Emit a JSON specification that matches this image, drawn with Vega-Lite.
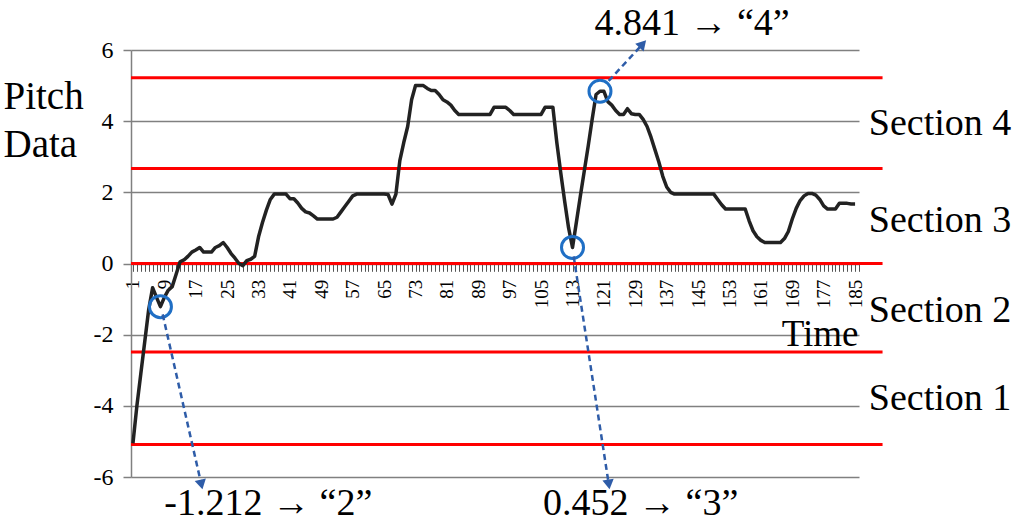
{
  "$schema": "https://vega.github.io/schema/vega-lite/v6.json",
  "width": 728,
  "height": 427,
  "autosize": {"type": "none"},
  "padding": {"left": 131, "top": 50, "right": 165, "bottom": 46},
  "background": "white",
  "config": {
    "view": {"stroke": null},
    "font": "Liberation Serif",
    "axis": {
      "labelFont": "Liberation Serif", "titleFont": "Liberation Serif",
      "labelColor": "#000000", "titleColor": "#000000", "titleFontWeight": "normal"
    },
    "axisX": {"labelFontSize": 19, "titleFontSize": 37},
    "axisY": {"labelFontSize": 24, "titleFontSize": 39}
  },
  "datasets": {
    "pitch": [
      {"t":1,"v":-5.05},{"t":2,"v":-4.0},{"t":3,"v":-3.1},{"t":4,"v":-2.2},{"t":5,"v":-1.3},{"t":6,"v":-0.68},{"t":7,"v":-0.95},{"t":8,"v":-1.212},{"t":9,"v":-0.95},{"t":10,"v":-0.75},
      {"t":11,"v":-0.65},{"t":12,"v":-0.3},{"t":13,"v":0.05},{"t":14,"v":0.1},{"t":15,"v":0.2},{"t":16,"v":0.32},{"t":17,"v":0.38},{"t":18,"v":0.45},{"t":19,"v":0.32},{"t":20,"v":0.32},
      {"t":21,"v":0.32},{"t":22,"v":0.45},{"t":23,"v":0.5},{"t":24,"v":0.59},{"t":25,"v":0.45},{"t":26,"v":0.28},{"t":27,"v":0.15},{"t":28,"v":0.0},{"t":29,"v":-0.06},{"t":30,"v":0.08},
      {"t":31,"v":0.12},{"t":32,"v":0.2},{"t":33,"v":0.75},{"t":34,"v":1.15},{"t":35,"v":1.5},{"t":36,"v":1.8},{"t":37,"v":1.95},{"t":38,"v":1.95},{"t":39,"v":1.95},{"t":40,"v":1.95},
      {"t":41,"v":1.82},{"t":42,"v":1.82},{"t":43,"v":1.7},{"t":44,"v":1.55},{"t":45,"v":1.45},{"t":46,"v":1.42},{"t":47,"v":1.34},{"t":48,"v":1.25},{"t":49,"v":1.25},{"t":50,"v":1.25},
      {"t":51,"v":1.25},{"t":52,"v":1.25},{"t":53,"v":1.3},{"t":54,"v":1.45},{"t":55,"v":1.6},{"t":56,"v":1.75},{"t":57,"v":1.9},{"t":58,"v":1.95},{"t":59,"v":1.95},{"t":60,"v":1.95},
      {"t":61,"v":1.95},{"t":62,"v":1.95},{"t":63,"v":1.95},{"t":64,"v":1.95},{"t":65,"v":1.95},{"t":66,"v":1.94},{"t":67,"v":1.67},{"t":68,"v":1.95},{"t":69,"v":2.89},{"t":70,"v":3.4},
      {"t":71,"v":3.85},{"t":72,"v":4.6},{"t":73,"v":5.0},{"t":74,"v":5.0},{"t":75,"v":5.0},{"t":76,"v":4.92},{"t":77,"v":4.86},{"t":78,"v":4.86},{"t":79,"v":4.75},{"t":80,"v":4.6},
      {"t":81,"v":4.54},{"t":82,"v":4.45},{"t":83,"v":4.3},{"t":84,"v":4.19},{"t":85,"v":4.19},{"t":86,"v":4.19},{"t":87,"v":4.19},{"t":88,"v":4.19},{"t":89,"v":4.19},{"t":90,"v":4.19},
      {"t":91,"v":4.19},{"t":92,"v":4.19},{"t":93,"v":4.39},{"t":94,"v":4.39},{"t":95,"v":4.39},{"t":96,"v":4.39},{"t":97,"v":4.3},{"t":98,"v":4.19},{"t":99,"v":4.19},{"t":100,"v":4.19},
      {"t":101,"v":4.19},{"t":102,"v":4.19},{"t":103,"v":4.19},{"t":104,"v":4.19},{"t":105,"v":4.19},{"t":106,"v":4.39},{"t":107,"v":4.39},{"t":108,"v":4.39},{"t":109,"v":3.4},{"t":110,"v":2.55},
      {"t":111,"v":1.75},{"t":112,"v":1.0},{"t":113,"v":0.452},{"t":114,"v":1.17},{"t":115,"v":1.9},{"t":116,"v":2.6},{"t":117,"v":3.3},{"t":118,"v":4.05},{"t":119,"v":4.75},{"t":120,"v":4.841},
      {"t":121,"v":4.84},{"t":122,"v":4.55},{"t":123,"v":4.45},{"t":124,"v":4.3},{"t":125,"v":4.19},{"t":126,"v":4.19},{"t":127,"v":4.35},{"t":128,"v":4.21},{"t":129,"v":4.19},{"t":130,"v":4.19},
      {"t":131,"v":4.05},{"t":132,"v":3.85},{"t":133,"v":3.55},{"t":134,"v":3.2},{"t":135,"v":2.85},{"t":136,"v":2.45},{"t":137,"v":2.15},{"t":138,"v":2.0},{"t":139,"v":1.95},{"t":140,"v":1.95},
      {"t":141,"v":1.95},{"t":142,"v":1.95},{"t":143,"v":1.95},{"t":144,"v":1.95},{"t":145,"v":1.95},{"t":146,"v":1.95},{"t":147,"v":1.95},{"t":148,"v":1.95},{"t":149,"v":1.95},{"t":150,"v":1.8},
      {"t":151,"v":1.65},{"t":152,"v":1.53},{"t":153,"v":1.53},{"t":154,"v":1.53},{"t":155,"v":1.53},{"t":156,"v":1.53},{"t":157,"v":1.53},{"t":158,"v":1.2},{"t":159,"v":0.92},{"t":160,"v":0.75},
      {"t":161,"v":0.65},{"t":162,"v":0.59},{"t":163,"v":0.59},{"t":164,"v":0.59},{"t":165,"v":0.59},{"t":166,"v":0.59},{"t":167,"v":0.7},{"t":168,"v":0.9},{"t":169,"v":1.25},{"t":170,"v":1.55},
      {"t":171,"v":1.77},{"t":172,"v":1.9},{"t":173,"v":1.97},{"t":174,"v":1.97},{"t":175,"v":1.92},{"t":176,"v":1.8},{"t":177,"v":1.62},{"t":178,"v":1.53},{"t":179,"v":1.53},{"t":180,"v":1.53},
      {"t":181,"v":1.69},{"t":182,"v":1.69},{"t":183,"v":1.69},{"t":184,"v":1.67},{"t":185,"v":1.67}
    ],
    "bounds": [{"v": 5.22}, {"v": 2.67}, {"v": 0}, {"v": -2.49}, {"v": -5.09}],
    "marks": [{"t": 8, "v": -1.212}, {"t": 113, "v": 0.452}, {"t": 120, "v": 4.841}],
    "arrows": [
      {"t": 8.57, "v": -1.43, "t2": 18.43, "v2": -6.21},
      {"t": 113.3, "v": 0.2, "t2": 122.25, "v2": -6.21},
      {"t": 122.2, "v": 5.13, "t2": 130.9, "v2": 6.17}
    ],
    "labels": [
      {"label": "Section 4", "t": 188.5, "v": 3.61},
      {"label": "Section 3", "t": 188.5, "v": 0.88},
      {"label": "Section 2", "t": 188.5, "v": -1.65},
      {"label": "Section 1", "t": 188.5, "v": -4.13},
      {"label": "-1.212 → “2”", "t": 9.0, "v": -7.08},
      {"label": "0.452 → “3”", "t": 105.5, "v": -7.08},
      {"label": "4.841 → “4”", "t": 118.6, "v": 6.43}
    ]
  },
  "layer": [
    {
      "data": {"name": "pitch"},
      "mark": {"type": "line", "color": "#222222", "strokeWidth": 3.5, "strokeJoin": "round", "opacity": 0},
      "encoding": {
        "x": {
          "field": "t", "type": "quantitative",
          "scale": {"domain": [0.5, 186], "nice": false, "zero": false},
          "axis": {
            "title": "Time", "orient": "bottom", "offset": -213.7, "tickCount": 185,
            "labelExpr": "(datum.value - 1) % 8 == 0 ? datum.label : ''",
            "labelAngle": -90, "labelFontSize": 19, "labelFont": "Liberation Serif", "labelColor": "#000000",
            "labelPadding": 8, "labelOverlap": false, "labelFlush": false, "labelBound": false,
            "tickSize": 8, "tickColor": "#555555", "tickWidth": 1,
            "domainColor": "#808080", "domainWidth": 1.5, "grid": false,
            "titleFont": "Liberation Serif", "titleFontSize": 37, "titleFontWeight": "normal", "titleColor": "#000000",
            "titleX": 727, "titleY": 82, "titleAlign": "right", "titleBaseline": "alphabetic", "titleAnchor": "end"
          }
        },
        "y": {
          "field": "v", "type": "quantitative",
          "scale": {"domain": [-6, 6], "nice": false, "zero": false},
          "axis": {
            "title": ["Pitch", "Data"], "values": [-6, -4, -2, 0, 2, 4, 6],
            "labelExpr": "replace(datum.label, '−', '-')",
            "grid": true, "gridColor": "#808080", "gridWidth": 1.5,
            "domainColor": "#808080", "domainWidth": 1.5,
            "tickColor": "#808080", "tickWidth": 1.5, "tickSize": 8,
            "labelFont": "Liberation Serif", "labelFontSize": 24, "labelColor": "#000000", "labelPadding": 10,
            "titleFont": "Liberation Serif", "titleFontSize": 39, "titleFontWeight": "normal", "titleColor": "#000000",
            "titleAngle": 0, "titleAlign": "left", "titleBaseline": "alphabetic",
            "titleX": -128, "titleY": 58, "titleLineHeight": 48
          }
        }
      }
    },
    {
      "data": {"name": "bounds"},
      "mark": {"type": "rule", "color": "#ff0000", "strokeWidth": 3},
      "encoding": {
        "y": {"field": "v", "type": "quantitative"},
        "x": {"datum": 0.5, "type": "quantitative"},
        "x2": {"datum": 192}
      }
    },
    {
      "data": {"name": "pitch"},
      "mark": {"type": "line", "color": "#222222", "strokeWidth": 3.5, "strokeJoin": "round"},
      "encoding": {
        "x": {"field": "t", "type": "quantitative"},
        "y": {"field": "v", "type": "quantitative"}
      }
    },
    {
      "data": {"name": "marks"},
      "mark": {"type": "point", "shape": "circle", "filled": false, "size": 484, "strokeWidth": 3, "color": "#1f6fc5", "opacity": 1},
      "encoding": {
        "x": {"field": "t", "type": "quantitative"},
        "y": {"field": "v", "type": "quantitative"}
      }
    },
    {
      "data": {"name": "arrows"},
      "mark": {"type": "rule", "color": "#2e5ca8", "strokeWidth": 2.5, "strokeDash": [6, 4]},
      "encoding": {
        "x": {"field": "t", "type": "quantitative"},
        "y": {"field": "v", "type": "quantitative"},
        "x2": {"field": "t2"},
        "y2": {"field": "v2"}
      }
    },
    {
      "data": {"values": [{"t": 18.43, "v": -6.21}]},
      "mark": {"type": "point", "shape": "triangle-up", "filled": true, "size": 130, "angle": 167.2, "color": "#2e5ca8", "opacity": 1},
      "encoding": {
        "x": {"field": "t", "type": "quantitative"},
        "y": {"field": "v", "type": "quantitative"}
      }
    },
    {
      "data": {"values": [{"t": 122.25, "v": -6.21}]},
      "mark": {"type": "point", "shape": "triangle-up", "filled": true, "size": 130, "angle": 171.25, "color": "#2e5ca8", "opacity": 1},
      "encoding": {
        "x": {"field": "t", "type": "quantitative"},
        "y": {"field": "v", "type": "quantitative"}
      }
    },
    {
      "data": {"values": [{"t": 130.9, "v": 6.17}]},
      "mark": {"type": "point", "shape": "triangle-up", "filled": true, "size": 130, "angle": 42.5, "color": "#2e5ca8", "opacity": 1},
      "encoding": {
        "x": {"field": "t", "type": "quantitative"},
        "y": {"field": "v", "type": "quantitative"}
      }
    },
    {
      "data": {"name": "labels"},
      "mark": {"type": "text", "align": "left", "baseline": "alphabetic", "font": "Liberation Serif", "fontSize": 38, "color": "#000000"},
      "encoding": {
        "x": {"field": "t", "type": "quantitative"},
        "y": {"field": "v", "type": "quantitative"},
        "text": {"field": "label"}
      }
    }
  ]
}
